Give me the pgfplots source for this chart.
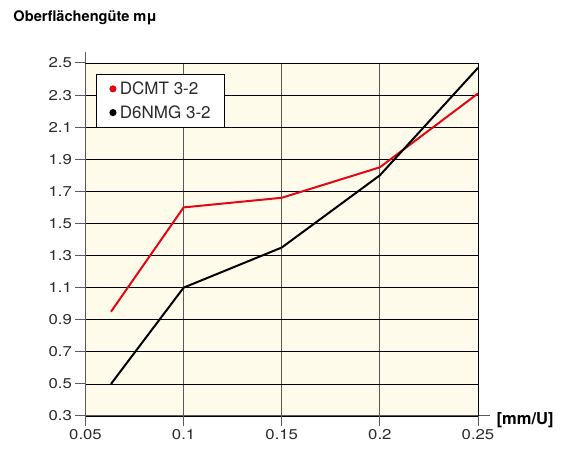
\documentclass[border=0pt]{standalone}
\usepackage{fontspec}
\setmainfont{TeX Gyre Heros}
\newfontfamily\tickfont{TeX Gyre Heros}[FakeStretch=1.18]
\usepackage{pgfplots}
\pgfplotsset{compat=1.18}
\definecolor{bgc}{HTML}{FEFBEB}
\definecolor{redc}{HTML}{E30613}
\definecolor{txt}{HTML}{2A2A2A}
\definecolor{vgrid}{HTML}{5A5A5A}
\begin{document}
\begin{tikzpicture}
\useasboundingbox (-85.5pt,-36pt) rectangle (482.5pt,416pt);
\begin{axis}[
  scale only axis,
  width=392.5pt, height=353pt,
  xmin=0.05, xmax=0.25, ymin=0.3, ymax=2.5,
  xtick={0.05,0.1,0.15,0.2,0.25},
  xticklabels={0.05,0.1,0.15,0.2,0.25},
  ytick={0.3,0.5,0.7,0.9,1.1,1.3,1.5,1.7,1.9,2.1,2.3,2.5},
  yticklabels={0.3,0.5,0.7,0.9,1.1,1.3,1.5,1.7,1.9,2.1,2.3,2.5},
  axis background/.style={fill=bgc},
  axis line style={draw=none},
  xmajorgrids, ymajorgrids,
  x grid style={vgrid, line width=1pt},
  y grid style={black, line width=0.75pt},
  tick align=outside,
  major tick length=10pt,
  xtick pos=bottom, ytick pos=left,
  tick style={vgrid, line width=1pt},
  ticklabel style={font=\tickfont\fontsize{14.2}{16}\selectfont, text=txt},
  /pgf/number format/assume math mode=true,
  legend style={at={(rel axis cs:0.027,0.969)}, anchor=north west,
    draw=black, line width=0.7pt, fill=white, inner xsep=13pt, inner ysep=6.5pt,
    nodes={inner sep=1pt},
    font=\fontsize{17}{18}\selectfont, text=txt, row sep=7.5pt,
    /tikz/every odd column/.append style={column sep=2.5pt}},
  legend cell align=left,
  legend image code/.code={\fill (0cm,0cm) circle (2.5pt);},
  clip=false,
]
\addplot[redc, line width=2pt] coordinates {
  (0.063,0.95) (0.1,1.60) (0.15,1.66) (0.2,1.85) (0.25,2.31)};
\addlegendentry{DCMT 3-2}
\addplot[black, line width=2pt] coordinates {
  (0.063,0.50) (0.1,1.10) (0.15,1.35) (0.2,1.80) (0.25,2.47)};
\addlegendentry{D6NMG 3-2}
\draw[vgrid, line width=1pt] (rel axis cs:0,0) -- (rel axis cs:0,1.03);
\draw[vgrid, line width=1pt] (rel axis cs:0,0) -- (rel axis cs:1.03,0);
\draw[black, line width=0.75pt] (rel axis cs:0,1) -- (rel axis cs:1,1) -- (rel axis cs:1,0);
\end{axis}
\node[anchor=base west, inner sep=0pt, font=\bfseries\fontsize{14.6}{16}\selectfont, text=black] at (-72.2pt,394pt) {Oberflächengüte mμ};
\node[anchor=west, inner sep=0pt, font=\bfseries\fontsize{16.5}{18}\selectfont, text=black] at (411pt,-4pt) {[mm/U]};
\end{tikzpicture}
\end{document}
